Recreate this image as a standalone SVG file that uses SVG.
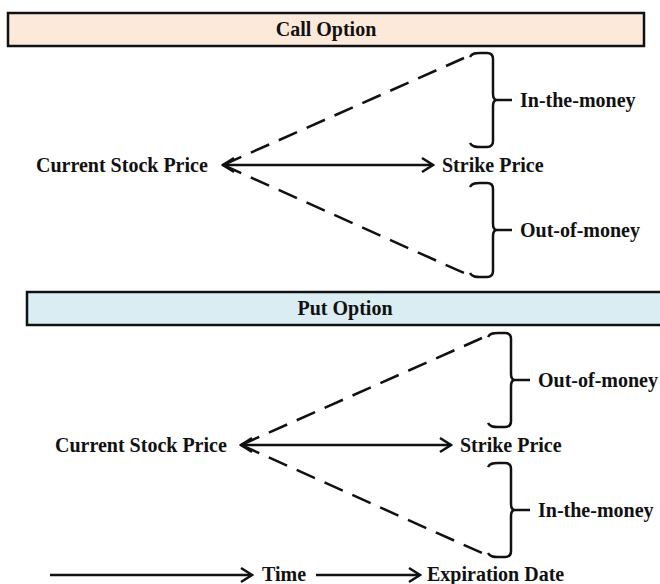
<svg xmlns="http://www.w3.org/2000/svg" width="660" height="584" viewBox="0 0 660 584">
<style>
text{font-family:"Liberation Serif","Times New Roman",serif;font-weight:bold;font-size:20px;fill:#111}
.hdr{stroke:#111;stroke-width:2.5}
.solid{stroke:#111;stroke-width:2.5;fill:none}
.dash{stroke:#111;stroke-width:2.5;fill:none;stroke-dasharray:20 10.5}
.brace{stroke:#111;stroke-width:2.5;fill:none;stroke-linejoin:round}
</style>
<defs>
<marker id="arr" viewBox="-14 -10 16 20" refX="0" refY="0" markerWidth="16" markerHeight="20" markerUnits="userSpaceOnUse" orient="auto-start-reverse">
<path d="M-11,-7 L0,0 L-11,7" fill="none" stroke="#111" stroke-width="2.5"/>
</marker>
</defs>
<g id="call-header">
<rect class="hdr" x="8" y="13" width="636" height="33" fill="#FDE9DA"/>
<text x="326" y="36" text-anchor="middle">Call Option</text>
</g>
<g id="put-header">
<rect class="hdr" x="27" y="292" width="645" height="33" fill="#DAEDF3"/>
<text x="345" y="315" text-anchor="middle">Put Option</text>
</g>
<g id="call-current"><text x="36" y="172">Current Stock Price</text></g>
<g id="call-strike"><text x="442" y="172">Strike Price</text></g>
<g id="call-itm"><text x="520" y="107">In-the-money</text></g>
<g id="call-otm"><text x="520" y="237">Out-of-money</text></g>
<g id="put-current"><text x="55" y="452">Current Stock Price</text></g>
<g id="put-strike"><text x="460" y="452">Strike Price</text></g>
<g id="put-otm"><text x="538" y="387">Out-of-money</text></g>
<g id="put-itm"><text x="538" y="517">In-the-money</text></g>
<g id="time"><text x="262" y="581">Time</text></g>
<g id="expiration"><text x="427" y="581">Expiration Date</text></g>
<g id="connectors">
<line class="solid" x1="223" y1="165" x2="433" y2="165" marker-start="url(#arr)" marker-end="url(#arr)"/>
<line class="dash" x1="223" y1="165" x2="464" y2="58"/>
<line class="dash" x1="223" y1="165" x2="464" y2="273"/>
<path class="brace" d="M470,57 C472,53 476,53 480,53 L487,53 C491,53 493,55 493,59 L493,94 C493,98 494,100 497,100 C494,100 493,102 493,106 L493,141 C493,145 491,147 487,147 L480,147 C476,147 472,147 470,143 M496,100 L512,100"/>
<path class="brace" d="M470,187 C472,183 476,183 480,183 L487,183 C491,183 493,185 493,189 L493,224 C493,228 494,230 497,230 C494,230 493,232 493,236 L493,271 C493,275 491,277 487,277 L480,277 C476,277 472,277 470,273 M496,230 L512,230"/>
<line class="solid" x1="241" y1="445" x2="451" y2="445" marker-start="url(#arr)" marker-end="url(#arr)"/>
<line class="dash" x1="241" y1="445" x2="482" y2="338"/>
<line class="dash" x1="241" y1="445" x2="482" y2="553"/>
<path class="brace" d="M488,337 C490,333 494,333 498,333 L505,333 C509,333 511,335 511,339 L511,374 C511,378 512,380 515,380 C512,380 511,382 511,386 L511,421 C511,425 509,427 505,427 L498,427 C494,427 490,427 488,423 M514,380 L530,380"/>
<path class="brace" d="M488,467 C490,463 494,463 498,463 L505,463 C509,463 511,465 511,469 L511,504 C511,508 512,510 515,510 C512,510 511,512 511,516 L511,551 C511,555 509,557 505,557 L498,557 C494,557 490,557 488,553 M514,510 L530,510"/>
<line class="solid" x1="50" y1="575" x2="252" y2="575" marker-end="url(#arr)"/>
<line class="solid" x1="316" y1="575" x2="420" y2="575" marker-end="url(#arr)"/>
</g>
</svg>
